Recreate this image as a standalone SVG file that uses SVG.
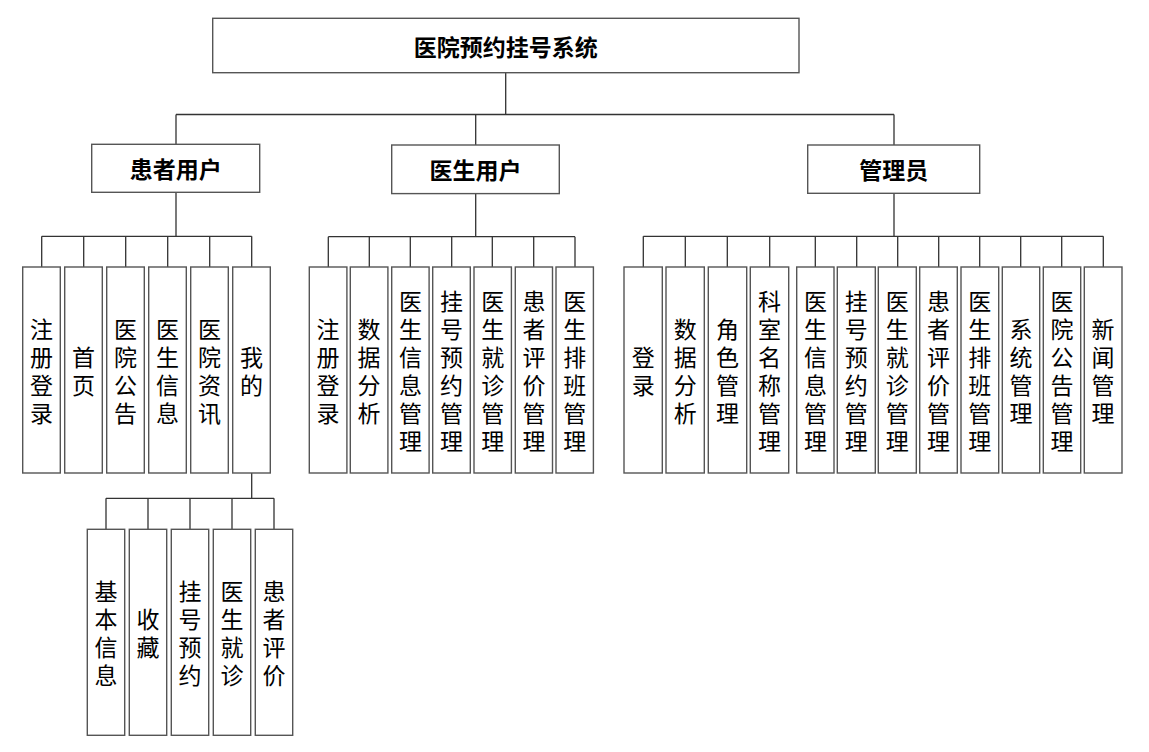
<svg xmlns="http://www.w3.org/2000/svg" width="1149" height="752" viewBox="0 0 1149 752">
<style>
.box{fill:#fff;stroke:#555;stroke-width:1.4}
.ln{fill:none;stroke:#333;stroke-width:1.3}
.t{font-family:"Noto Sans CJK SC","Noto Sans",sans-serif;font-size:23px;fill:#000;text-anchor:middle;dominant-baseline:central}
.b{font-weight:bold;font-size:23px}
</style>
<rect width="1149" height="752" fill="#fff"/>
<g id="connectors">
<path class="ln" d="M505.7 72.7V114.5M176 114.5H894M176 114.5V144.5M475.7 114.5V145M894 114.5V145"/>
<path class="ln" d="M176 192.5V236.3M41.7 236.3H251.7M41.7 236.3V267M83.7 236.3V267M125.7 236.3V267M167.7 236.3V267M209.7 236.3V267M251.7 236.3V267"/>
<path class="ln" d="M475.7 193.5V236.7M328.3 236.7H575M328.3 236.7V267M369.3 236.7V267M410.3 236.7V267M451.7 236.7V267M492.3 236.7V267M533.7 236.7V267M575 236.7V267"/>
<path class="ln" d="M894 193.3V236.3M643.3 236.3H1103.3M643.3 236.3V267M685.3 236.3V267M727.3 236.3V267M769.7 236.3V267M815.3 236.3V267M856.7 236.3V267M897.7 236.3V267M938.7 236.3V267M979.7 236.3V267M1020.7 236.3V267M1061.7 236.3V267M1103.3 236.3V267"/>
<path class="ln" d="M251.7 473V498.3M106 498.3H274M106 498.3V529.3M148 498.3V529.3M190 498.3V529.3M232 498.3V529.3M274 498.3V529.3"/>
</g>
<g id="root"><rect class="box" x="212.7" y="18.3" width="586.3" height="54.4"/><text class="t b" x="505.7" y="45.5">医院预约挂号系统</text></g>
<g id="patient"><rect class="box" x="91.7" y="144.3" width="168" height="48"/><text class="t b" x="175.7" y="168.3">患者用户</text></g>
<g id="doctor"><rect class="box" x="391.7" y="145" width="167.6" height="48.6"/><text class="t b" x="475.5" y="169.3">医生用户</text></g>
<g id="admin"><rect class="box" x="807.7" y="145" width="172" height="48.3"/><text class="t b" x="893.7" y="169.2">管理员</text></g>

<g id="p1"><rect class="box" x="22.7" y="267" width="37.6" height="206"/><text class="t"><tspan x="41.5" y="328">注</tspan><tspan x="41.5" y="356">册</tspan><tspan x="41.5" y="384">登</tspan><tspan x="41.5" y="412">录</tspan></text></g>
<g id="p2"><rect class="box" x="64.7" y="267" width="37.6" height="206"/><text class="t"><tspan x="83.5" y="356">首</tspan><tspan x="83.5" y="384">页</tspan></text></g>
<g id="p3"><rect class="box" x="106.7" y="267" width="37.6" height="206"/><text class="t"><tspan x="125.5" y="328">医</tspan><tspan x="125.5" y="356">院</tspan><tspan x="125.5" y="384">公</tspan><tspan x="125.5" y="412">告</tspan></text></g>
<g id="p4"><rect class="box" x="148.7" y="267" width="37.6" height="206"/><text class="t"><tspan x="167.5" y="328">医</tspan><tspan x="167.5" y="356">生</tspan><tspan x="167.5" y="384">信</tspan><tspan x="167.5" y="412">息</tspan></text></g>
<g id="p5"><rect class="box" x="190.7" y="267" width="37.6" height="206"/><text class="t"><tspan x="209.5" y="328">医</tspan><tspan x="209.5" y="356">院</tspan><tspan x="209.5" y="384">资</tspan><tspan x="209.5" y="412">讯</tspan></text></g>
<g id="p6"><rect class="box" x="232.7" y="267" width="37.6" height="206"/><text class="t"><tspan x="251.5" y="356">我</tspan><tspan x="251.5" y="384">的</tspan></text></g>

<g id="g1"><rect class="box" x="87.3" y="529.3" width="37.4" height="206"/><text class="t"><tspan x="106" y="590">基</tspan><tspan x="106" y="618">本</tspan><tspan x="106" y="646">信</tspan><tspan x="106" y="674">息</tspan></text></g>
<g id="g2"><rect class="box" x="129.3" y="529.3" width="37.4" height="206"/><text class="t"><tspan x="148" y="618">收</tspan><tspan x="148" y="646">藏</tspan></text></g>
<g id="g3"><rect class="box" x="171.3" y="529.3" width="37.4" height="206"/><text class="t"><tspan x="190" y="590">挂</tspan><tspan x="190" y="618">号</tspan><tspan x="190" y="646">预</tspan><tspan x="190" y="674">约</tspan></text></g>
<g id="g4"><rect class="box" x="213.3" y="529.3" width="37.4" height="206"/><text class="t"><tspan x="232" y="590">医</tspan><tspan x="232" y="618">生</tspan><tspan x="232" y="646">就</tspan><tspan x="232" y="674">诊</tspan></text></g>
<g id="g5"><rect class="box" x="255.3" y="529.3" width="37.4" height="206"/><text class="t"><tspan x="274" y="590">患</tspan><tspan x="274" y="618">者</tspan><tspan x="274" y="646">评</tspan><tspan x="274" y="674">价</tspan></text></g>

<g id="d1"><rect class="box" x="309.3" y="267" width="37.6" height="206"/><text class="t"><tspan x="328.1" y="328">注</tspan><tspan x="328.1" y="356">册</tspan><tspan x="328.1" y="384">登</tspan><tspan x="328.1" y="412">录</tspan></text></g>
<g id="d2"><rect class="box" x="350.3" y="267" width="37.6" height="206"/><text class="t"><tspan x="369.1" y="328">数</tspan><tspan x="369.1" y="356">据</tspan><tspan x="369.1" y="384">分</tspan><tspan x="369.1" y="412">析</tspan></text></g>
<g id="d3"><rect class="box" x="391.7" y="267" width="37.4" height="206"/><text class="t"><tspan x="410.4" y="300">医</tspan><tspan x="410.4" y="328">生</tspan><tspan x="410.4" y="356">信</tspan><tspan x="410.4" y="384">息</tspan><tspan x="410.4" y="412">管</tspan><tspan x="410.4" y="440">理</tspan></text></g>
<g id="d4"><rect class="box" x="432.7" y="267" width="37.6" height="206"/><text class="t"><tspan x="451.5" y="300">挂</tspan><tspan x="451.5" y="328">号</tspan><tspan x="451.5" y="356">预</tspan><tspan x="451.5" y="384">约</tspan><tspan x="451.5" y="412">管</tspan><tspan x="451.5" y="440">理</tspan></text></g>
<g id="d5"><rect class="box" x="474" y="267" width="37.4" height="206"/><text class="t"><tspan x="492.7" y="300">医</tspan><tspan x="492.7" y="328">生</tspan><tspan x="492.7" y="356">就</tspan><tspan x="492.7" y="384">诊</tspan><tspan x="492.7" y="412">管</tspan><tspan x="492.7" y="440">理</tspan></text></g>
<g id="d6"><rect class="box" x="515.3" y="267" width="37.2" height="206"/><text class="t"><tspan x="533.9" y="300">患</tspan><tspan x="533.9" y="328">者</tspan><tspan x="533.9" y="356">评</tspan><tspan x="533.9" y="384">价</tspan><tspan x="533.9" y="412">管</tspan><tspan x="533.9" y="440">理</tspan></text></g>
<g id="d7"><rect class="box" x="556" y="267" width="37.4" height="206"/><text class="t"><tspan x="574.7" y="300">医</tspan><tspan x="574.7" y="328">生</tspan><tspan x="574.7" y="356">排</tspan><tspan x="574.7" y="384">班</tspan><tspan x="574.7" y="412">管</tspan><tspan x="574.7" y="440">理</tspan></text></g>

<g id="a1"><rect class="box" x="624" y="267" width="38.3" height="206"/><text class="t"><tspan x="643.2" y="356">登</tspan><tspan x="643.2" y="384">录</tspan></text></g>
<g id="a2"><rect class="box" x="666" y="267" width="38.3" height="206"/><text class="t"><tspan x="685.2" y="328">数</tspan><tspan x="685.2" y="356">据</tspan><tspan x="685.2" y="384">分</tspan><tspan x="685.2" y="412">析</tspan></text></g>
<g id="a3"><rect class="box" x="708.3" y="267" width="38.4" height="206"/><text class="t"><tspan x="727.5" y="328">角</tspan><tspan x="727.5" y="356">色</tspan><tspan x="727.5" y="384">管</tspan><tspan x="727.5" y="412">理</tspan></text></g>
<g id="a4"><rect class="box" x="750.3" y="267" width="38.4" height="206"/><text class="t"><tspan x="769.5" y="300">科</tspan><tspan x="769.5" y="328">室</tspan><tspan x="769.5" y="356">名</tspan><tspan x="769.5" y="384">称</tspan><tspan x="769.5" y="412">管</tspan><tspan x="769.5" y="440">理</tspan></text></g>
<g id="a5"><rect class="box" x="796.7" y="267" width="37.3" height="206"/><text class="t"><tspan x="815.4" y="300">医</tspan><tspan x="815.4" y="328">生</tspan><tspan x="815.4" y="356">信</tspan><tspan x="815.4" y="384">息</tspan><tspan x="815.4" y="412">管</tspan><tspan x="815.4" y="440">理</tspan></text></g>
<g id="a6"><rect class="box" x="837.3" y="267" width="38" height="206"/><text class="t"><tspan x="856.3" y="300">挂</tspan><tspan x="856.3" y="328">号</tspan><tspan x="856.3" y="356">预</tspan><tspan x="856.3" y="384">约</tspan><tspan x="856.3" y="412">管</tspan><tspan x="856.3" y="440">理</tspan></text></g>
<g id="a7"><rect class="box" x="878.3" y="267" width="38" height="206"/><text class="t"><tspan x="897.3" y="300">医</tspan><tspan x="897.3" y="328">生</tspan><tspan x="897.3" y="356">就</tspan><tspan x="897.3" y="384">诊</tspan><tspan x="897.3" y="412">管</tspan><tspan x="897.3" y="440">理</tspan></text></g>
<g id="a8"><rect class="box" x="919.7" y="267" width="37.6" height="206"/><text class="t"><tspan x="938.5" y="300">患</tspan><tspan x="938.5" y="328">者</tspan><tspan x="938.5" y="356">评</tspan><tspan x="938.5" y="384">价</tspan><tspan x="938.5" y="412">管</tspan><tspan x="938.5" y="440">理</tspan></text></g>
<g id="a9"><rect class="box" x="961" y="267" width="37.7" height="206"/><text class="t"><tspan x="979.8" y="300">医</tspan><tspan x="979.8" y="328">生</tspan><tspan x="979.8" y="356">排</tspan><tspan x="979.8" y="384">班</tspan><tspan x="979.8" y="412">管</tspan><tspan x="979.8" y="440">理</tspan></text></g>
<g id="a10"><rect class="box" x="1002.3" y="267" width="37.4" height="206"/><text class="t"><tspan x="1021" y="328">系</tspan><tspan x="1021" y="356">统</tspan><tspan x="1021" y="384">管</tspan><tspan x="1021" y="412">理</tspan></text></g>
<g id="a11"><rect class="box" x="1043.3" y="267" width="37.4" height="206"/><text class="t"><tspan x="1062" y="300">医</tspan><tspan x="1062" y="328">院</tspan><tspan x="1062" y="356">公</tspan><tspan x="1062" y="384">告</tspan><tspan x="1062" y="412">管</tspan><tspan x="1062" y="440">理</tspan></text></g>
<g id="a12"><rect class="box" x="1084.3" y="267" width="37.7" height="206"/><text class="t"><tspan x="1103.1" y="328">新</tspan><tspan x="1103.1" y="356">闻</tspan><tspan x="1103.1" y="384">管</tspan><tspan x="1103.1" y="412">理</tspan></text></g>
</svg>
